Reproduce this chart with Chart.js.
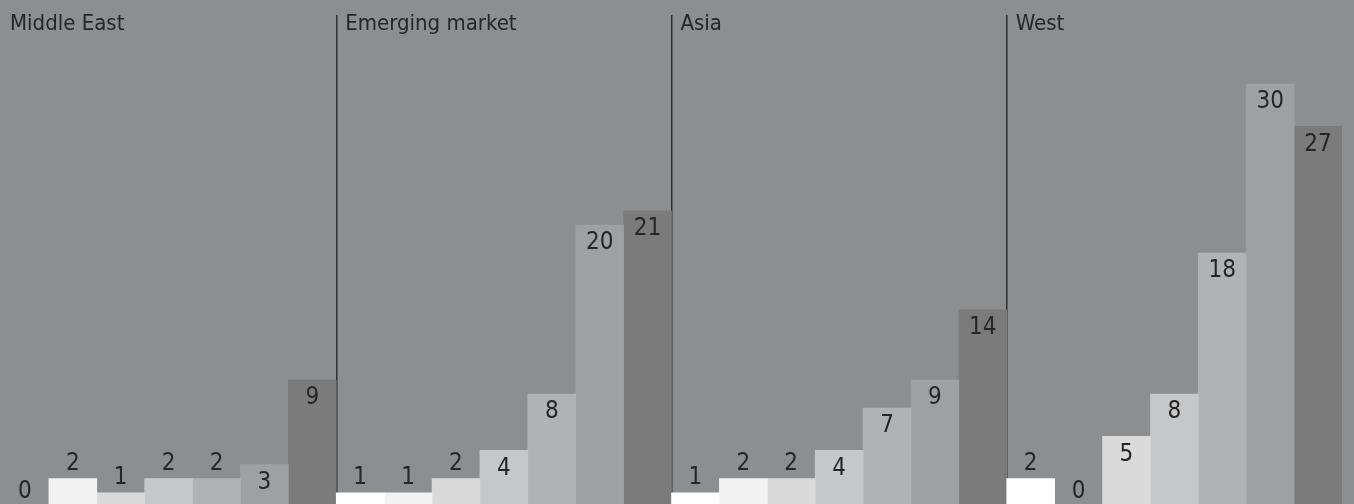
<!DOCTYPE html>
<html>
<head>
<meta charset="utf-8">
<script src="https://cdn.jsdelivr.net/npm/chart.js@4/dist/chart.umd.min.js"></script>
<style>
  html, body { margin: 0; padding: 0; background: #8b8f92; overflow: hidden; }
  canvas { display: block; }
</style>
</head>
<body>
<canvas id="c" width="1354" height="504"></canvas>
<script>
// Categories (panels)
const regions = ['Middle East', 'Emerging market', 'Asia', 'West'];
// Seven series, one value per region
const series1 = [0, 1, 1, 2];
const series2 = [2, 1, 2, 0];
const series3 = [1, 2, 2, 5];
const series4 = [2, 4, 4, 8];
const series5 = [2, 8, 7, 18];
const series6 = [3, 20, 9, 30];
const series7 = [9, 21, 14, 27];

const allSeries = [series1, series2, series3, series4, series5, series6, series7];
const shades = ['#ffffff', '#f2f2f2', '#dadada', '#c6c7c8', '#b1b2b4', '#9ea1a3', '#7b7b7b'];
const BG = '#8b8f92';
const TEXT = '#262626';
const TITLE_FONT = '22px "DejaVu Sans Condensed", Roboto, sans-serif';
const LABEL_FONT = '24px "DejaVu Sans Condensed", Roboto, sans-serif';

const bgPlugin = {
  id: 'bg',
  beforeDraw(chart) {
    const ctx = chart.ctx;
    ctx.save();
    ctx.fillStyle = BG;
    ctx.fillRect(0, 0, chart.width, chart.height);
    ctx.restore();
  }
};

const labelPlugin = {
  id: 'labels',
  afterDraw(chart) {
    const ctx = chart.ctx;
    ctx.save();
    ctx.font = LABEL_FONT;
    ctx.fillStyle = TEXT;
    ctx.textAlign = 'center';
    ctx.textBaseline = 'middle';
    chart.data.datasets.forEach((ds, di) => {
      const meta = chart.getDatasetMeta(di);
      meta.data.forEach((el, i) => {
        const v = ds.data[i];
        const y = v >= 3 ? el.y + 18 : el.y - 15;
        ctx.fillText(String(v), el.x, y);
      });
    });
    // panel titles
    const xs = chart.scales.x;
    ctx.font = TITLE_FONT;
    ctx.textAlign = 'left';
    regions.forEach((r, i) => {
      const left = i === 0 ? chart.chartArea.left
        : (xs.getPixelForValue(i - 1) + xs.getPixelForValue(i)) / 2;
      ctx.fillText(r, left + 9, 24);
    });
    ctx.restore();
  }
};

new Chart(document.getElementById('c'), {
  type: 'bar',
  data: {
    labels: regions,
    datasets: allSeries.map((d, k) => ({
      label: 'Series ' + (k + 1),
      data: d,
      backgroundColor: shades[k],
      borderWidth: 0,
      barPercentage: 1,
      categoryPercentage: 1
    }))
  },
  options: {
    responsive: false,
    devicePixelRatio: 1,
    animation: false,
    layout: { padding: { top: 15, right: 12, left: 1, bottom: 0 } },
    plugins: { legend: { display: false }, tooltip: { enabled: false } },
    scales: {
      x: {
        z: 1,
        ticks: { display: false },
        border: { display: false },
        grid: {
          offset: true,
          drawTicks: false,
          lineWidth: 1.5,
          color: (c) => (c.index > 0 && c.index < regions.length) ? '#2e2e2e' : 'rgba(0,0,0,0)'
        }
      },
      y: {
        display: false,
        min: 0.2,
        max: 34.9
      }
    }
  },
  plugins: [bgPlugin, labelPlugin]
});
</script>
</body>
</html>
